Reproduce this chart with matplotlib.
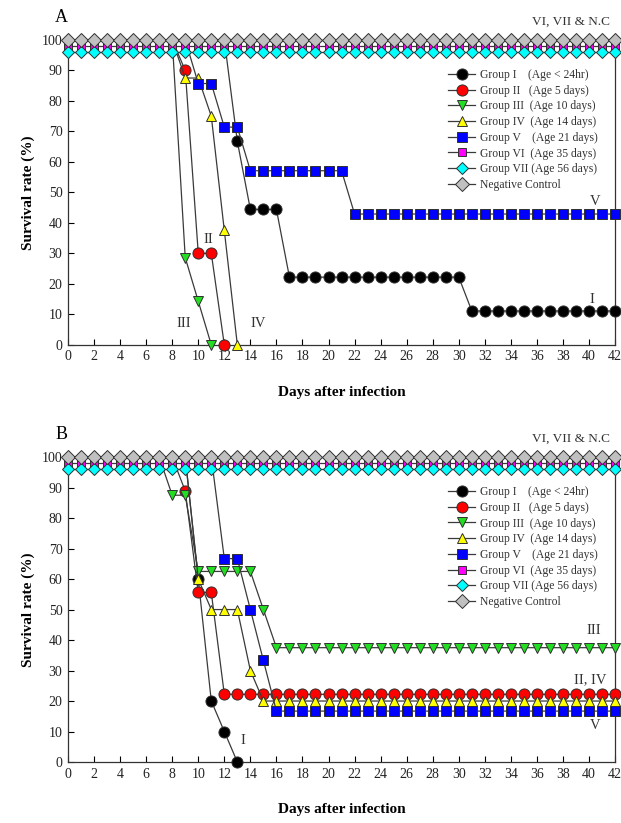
import matplotlib
matplotlib.use('Agg')
import matplotlib.pyplot as plt
import numpy as np

plt.rcParams['font.family'] = ['Liberation Serif', 'DejaVu Serif']

days = list(range(0, 43))

# panel A
a_g1 = [100] * 13 + [66.7] + [44.4] * 3 + [22.2] * 14 + [11.1] * 12
a_g2 = [100] * 9 + [90, 30, 30, 0]
a_g3 = [100] * 9 + [28.6, 14.3, 0]
a_g4 = [100] * 9 + [87.5, 87.5, 75, 37.5, 0]
a_g5 = [100] * 10 + [85.7] * 2 + [71.4] * 2 + [57.1] * 8 + [42.9] * 21
a_g6 = [98] * 43
a_g7 = [96] * 43
a_nc = [100] * 43

# panel B
b_g1 = [100] * 10 + [60, 20, 10, 0]
b_g2 = [100] * 9 + [88.9] + [55.6] * 2 + [22.2] * 31
b_g3 = [100] * 8 + [87.5] * 2 + [62.5] * 5 + [50] + [37.5] * 27
b_g4 = [100] * 10 + [60] + [50] * 3 + [30] + [20] * 28
b_g5 = [100] * 12 + [66.7] * 2 + [50, 33.3] + [16.7] * 27
b_g6 = [98] * 43
b_g7 = [96] * 43
b_nc = [100] * 43

labels = ['Group I    (Age < 24hr)',
          'Group II   (Age 5 days)',
          'Group III  (Age 10 days)',
          'Group IV  (Age 14 days)',
          'Group V    (Age 21 days)',
          'Group VI  (Age 35 days)',
          'Group VII (Age 56 days)',
          'Negative Control']
markers = ['o', 'o', 'v', '^', 's', 's', 'D', 'D']
colors = ['#000000', '#ff0000', '#22dd22', '#ffff00', '#0000ff', '#ff00ff', '#00ffff', '#c0c0c0']
sizes = [8, 8, 7.5, 7, 6.8, 6, 6.5, 6.8]


def panel(ax, series, letter, notes):
    for k, (vals, lab, m, c, s) in enumerate(zip(series, labels, markers, colors, sizes)):
        # groups I-V: the 100% points sit behind the control markers
        if k < 5:
            mk = [i for i, v in enumerate(vals) if v < 100]
        else:
            mk = None
        ax.plot(days[:len(vals)], vals, color='#3a3a3a', lw=0.9, marker=m, ms=s,
                mfc=c, mec='#303030', mew=0.7, label=lab, clip_on=False, zorder=3,
                markevery=mk)
    ax.set_xlim(0, 42)
    ax.set_ylim(0, 100)
    ax.set_xticks(range(0, 43, 2))
    ax.set_yticks(range(0, 101, 10))
    ax.tick_params(direction='in', length=4, width=0.8, labelsize=10, pad=4,
                   labelcolor='#222222')
    ax.spines['top'].set_visible(False)
    for sp in ['left', 'bottom', 'right']:
        ax.spines[sp].set_linewidth(0.9)
        ax.spines[sp].set_color('#333333')
    ax.set_xlabel('Days after infection', fontsize=11, fontweight='bold', labelpad=16)
    ax.set_ylabel('Survival rate (%)', fontsize=11, fontweight='bold', labelpad=5)
    ax.text(-0.5, 107.5, letter, fontsize=13, ha='center', va='center', clip_on=False)
    ax.text(41.6, 106, 'VI, VII & N.C', fontsize=9.5, ha='right', va='center', color='#333333')
    for x, y, t in notes:
        ax.text(x, y, t, fontsize=10.5, ha='center', va='center', color='#333333')
    leg = ax.legend(loc='upper left', bbox_to_anchor=(0.695, 0.905), frameon=False, fontsize=8.4,
                    handlelength=2.3, handletextpad=0.45, labelspacing=0.32, borderpad=0,
                    borderaxespad=0)
    for t in leg.get_texts():
        t.set_color('#333333')


fig = plt.figure(figsize=(6.21, 8.23), dpi=100)
ax1 = fig.add_axes([0.1095, 0.581, 0.881, 0.3705])
ax2 = fig.add_axes([0.1095, 0.0741, 0.881, 0.3705])

panel(ax1, [a_g1, a_g2, a_g3, a_g4, a_g5, a_g6, a_g7, a_nc], 'A',
      [(10.8, 34.7, 'II'), (8.9, 7, 'III'), (14.6, 7, 'IV'), (40.2, 15, 'I'), (40.5, 47, 'V')])
panel(ax2, [b_g1, b_g2, b_g3, b_g4, b_g5, b_g6, b_g7, b_nc], 'B',
      [(13.4, 7.2, 'I'), (40.4, 43, 'III'), (40.1, 27, 'II, IV'), (40.5, 12, 'V')])

fig.savefig('out.png', dpi=100)
